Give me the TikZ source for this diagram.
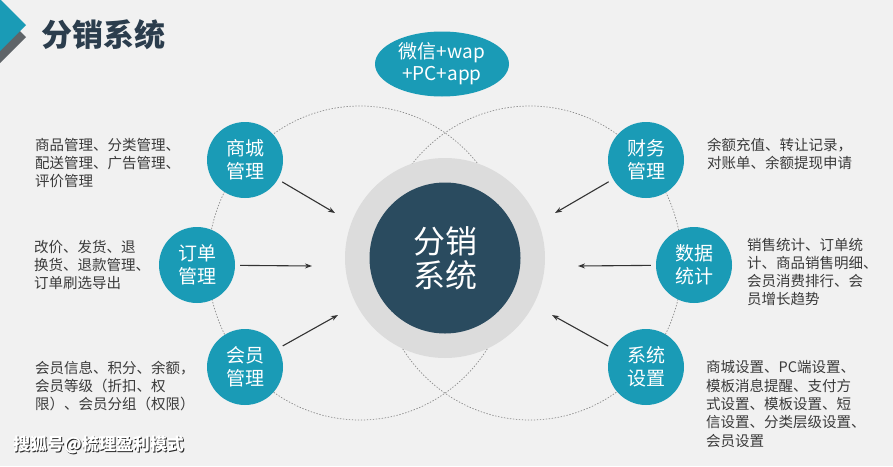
\documentclass[tikz,border=0pt]{standalone}
\usepackage{fontspec}
\setmainfont{Noto Sans CJK SC}
\usetikzlibrary{arrows.meta,shapes.geometric}

\definecolor{bg}{HTML}{F1F1F1}
\definecolor{tealc}{HTML}{1A9BB6}
\definecolor{navy}{HTML}{2A4B5F}
\definecolor{ringgray}{HTML}{DCDCDC}
\definecolor{txt}{HTML}{3A3A3A}
\definecolor{titlec}{HTML}{2B3D4D}
\definecolor{dotc}{HTML}{8C8C8C}
\definecolor{shadowgray}{HTML}{5F6468}

\begin{document}
\begin{tikzpicture}[x=1pt,y=-1pt,
  mod/.style={circle, fill=tealc, minimum size=76pt, inner sep=0pt, text=white,
    align=center, font=\fontsize{19}{23}\selectfont},
  desc/.style={anchor=west, align=left, text=txt, inner sep=0pt,
    font=\fontsize{14.5}{18.3}\selectfont},
  arr/.style={draw=black!80, line width=1.1pt, shorten <=5pt,
    -{Stealth[length=7pt,width=5pt]}},
  dotring/.style={draw=dotc, line width=0.7pt, dash pattern=on 1.4pt off 1.6pt},
  wm/.style={anchor=west, inner sep=0pt, font=\fontsize{17}{20}\selectfont\bfseries}
]
% background
\fill[bg] (0,0) rectangle (893,466);
\useasboundingbox (0,0) rectangle (893,466);

% title icon
\fill[shadowgray] (0,11) -- (26,37) -- (0,63) -- cycle;
\fill[tealc] (0,-1) -- (26,25) -- (0,51) -- cycle;
\node[anchor=west, inner sep=0pt, text=titlec,
  font=\fontsize{31}{34}\selectfont\bfseries] (title) at (41,35) {分销系统};

% dotted ellipses
\draw[dotring] (360,263) ellipse [x radius=152pt, y radius=157pt];
\draw[dotring] (530,263) ellipse [x radius=152pt, y radius=157pt];

% channel ellipse
\node[ellipse, fill=tealc, minimum width=134pt, minimum height=65pt, inner sep=0pt,
  text=white, align=center, font=\fontsize{19}{22}\selectfont] (chan) at (442,64)
  {微信+wap\\+PC+app};

% central circle
\node[circle, fill=ringgray, minimum size=200pt, inner sep=0pt] (ring) at (445,258) {};
\node[circle, fill=navy, minimum size=151pt, inner sep=0pt, text=white, align=center,
  font=\fontsize{32}{34}\selectfont] (core) at (ring.center) {分销\\系统};

% module nodes
\node[mod] (shop) at (245,160) {商城\\管理};
\node[mod] (order) at (197,265) {订单\\管理};
\node[mod] (member) at (245,367) {会员\\管理};
\node[mod] (fin) at (646,160) {财务\\管理};
\node[mod] (data) at (694,265) {数据\\统计};
\node[mod] (sys) at (646,367) {系统\\设置};

% arrow end points
\coordinate (e1) at (335,213);
\coordinate (e2) at (312,266);
\coordinate (e3) at (338,315);
\coordinate (e4) at (555,213);
\coordinate (e5) at (578,266);
\coordinate (e6) at (552,315);
\draw[arr] (shop) -- (e1);
\draw[arr] (order) -- (e2);
\draw[arr] (member) -- (e3);
\draw[arr] (fin) -- (e4);
\draw[arr] (data) -- (e5);
\draw[arr] (sys) -- (e6);

% descriptions
\node[desc] (d1) at (35,163) {商品管理、分类管理、\\配送管理、广告管理、\\评价管理};
\node[desc] (d2) at (34,265) {改价、发货、退\\换货、退款管理、\\订单刷选导出};
\node[desc] (d3) at (35,386) {会员信息、积分、余额，\\会员等级（折扣、权\\限）、会员分组（权限）};
\node[desc] (d4) at (707,154) {余额充值、转让记录，\\对账单、余额提现申请};
\node[desc] (d5) at (747,272) {销售统计、订单统\\计、商品销售明细、\\会员消费排行、会\\员增长趋势};
\node[desc] (d6) at (706,404) {商城设置、PC端设置、\\模板消息提醒、支付方\\式设置、模板设置、短\\信设置、分类层级设置、\\会员设置};

% watermark
\node[wm, text=black!85] (wmshadow) at (14,446) {搜狐号@梳理盈利模式};
\node[wm, text=white] (wmark) at (13,445) {搜狐号@梳理盈利模式};
\end{tikzpicture}
\end{document}
